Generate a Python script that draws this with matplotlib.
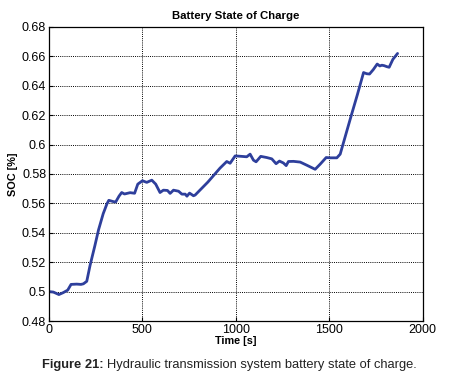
import matplotlib
matplotlib.use("Agg")
import matplotlib.pyplot as plt
from matplotlib.ticker import FuncFormatter

# data
time_s = [0, 23, 53, 76, 100, 118, 148, 171, 184, 202, 220, 245, 265, 290, 310, 320,
          345, 357, 375, 389, 404, 434, 458, 475, 500, 523, 550, 571, 594, 612, 634,
          648, 666, 693, 711, 729, 738, 752, 773, 782, 850, 915, 951, 969, 996,
          1030, 1058, 1076, 1094, 1108, 1133, 1165, 1192, 1215, 1233, 1254, 1269,
          1281, 1308, 1344, 1379, 1424, 1451, 1483, 1505, 1540, 1558, 1594, 1620,
          1650, 1683, 1700, 1715, 1735, 1756, 1770, 1781, 1793, 1808, 1820, 1840, 1865]
soc = [0.5000, 0.4997, 0.4980, 0.4993, 0.5010, 0.5049, 0.5051, 0.5049, 0.5053, 0.5070,
       0.5180, 0.5310, 0.5420, 0.5530, 0.5597, 0.5621, 0.5612, 0.5610, 0.5650, 0.5674,
       0.5664, 0.5673, 0.5669, 0.5731, 0.5754, 0.5743, 0.5758, 0.5731, 0.5674, 0.5690,
       0.5688, 0.5668, 0.5690, 0.5683, 0.5663, 0.5663, 0.5649, 0.5670, 0.5652, 0.5657,
       0.5745, 0.5840, 0.5885, 0.5873, 0.5923, 0.5920, 0.5917, 0.5935, 0.5894, 0.5883,
       0.5920, 0.5912, 0.5903, 0.5870, 0.5888, 0.5875, 0.5857, 0.5885, 0.5886, 0.5881,
       0.5860, 0.5832, 0.5867, 0.5912, 0.5910, 0.5910, 0.5935, 0.6095, 0.6210, 0.6340,
       0.6490, 0.6482, 0.6480, 0.6510, 0.6548, 0.6535, 0.6540, 0.6537, 0.6530, 0.6526,
       0.6580, 0.6620]

x_ticks = [0, 500, 1000, 1500, 2000]
y_ticks = [0.48, 0.5, 0.52, 0.54, 0.56, 0.58, 0.6, 0.62, 0.64, 0.66, 0.68]

plt.rcParams['font.family'] = ['Liberation Sans', 'DejaVu Sans']

fig = plt.figure(figsize=(4.52, 3.79), dpi=100)
ax = fig.add_axes([0.1084, 0.153, 0.827, 0.7758])

ax.plot(time_s, soc, color='#2e3f9c', linewidth=2.0, solid_capstyle='round')

ax.set_xlim(0, 2000)
ax.set_ylim(0.48, 0.68)
ax.set_xticks(x_ticks)
ax.set_yticks(y_ticks)
ax.yaxis.set_major_formatter(FuncFormatter(lambda v, p: '%g' % round(v, 2)))
ax.tick_params(direction='in', length=3, labelsize=9, width=0.8, pad=2)
ax.grid(True, color='black', linestyle=(0, (1, 1.2)), linewidth=0.7)
for s in ax.spines.values():
    s.set_linewidth(0.9)

ax.set_title('Battery State of Charge', fontsize=8.2, fontweight='bold', pad=6)
ax.set_xlabel('Time [s]', fontsize=7.8, fontweight='bold', labelpad=0)
ax.set_ylabel('SOC [%]', fontsize=7.8, fontweight='bold', labelpad=3)

# caption: bold lead-in then regular text
fig.canvas.draw()
r = fig.canvas.get_renderer()
t1 = fig.text(42 / 452, 1 - 368 / 379, 'Figure 21:', fontsize=9.3, fontweight='bold',
              va='baseline', color='#222222')
bb = t1.get_window_extent(renderer=r)
fig.text(bb.x1 / fig.bbox.width + 0.008, 1 - 368 / 379,
         'Hydraulic transmission system battery state of charge.',
         fontsize=9.3, va='baseline', color='#222222')

fig.savefig('out.png', dpi=100)
